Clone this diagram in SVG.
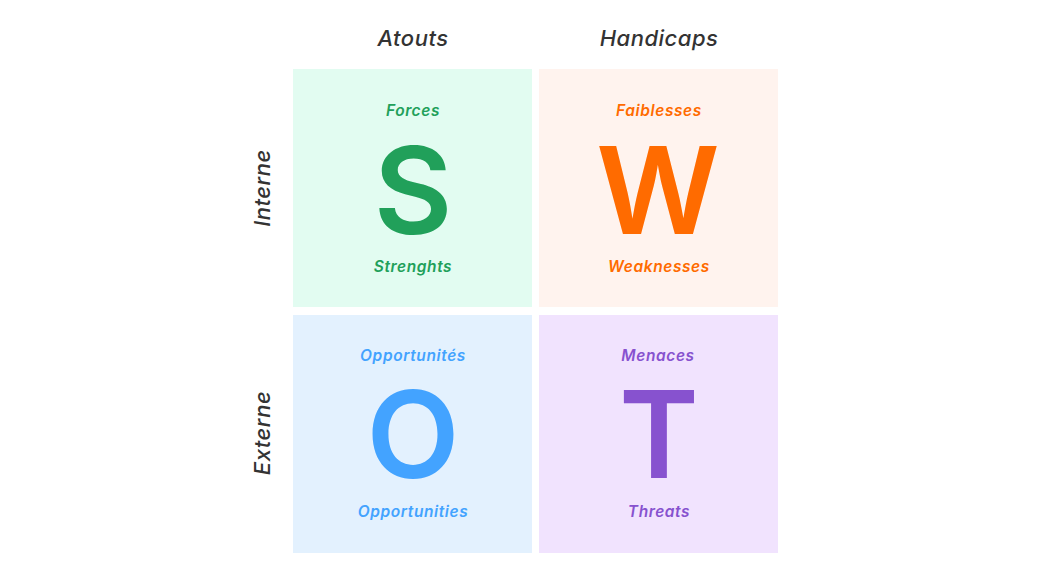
<svg xmlns="http://www.w3.org/2000/svg" width="1063" height="584" viewBox="0 0 1063 584">
<style>
.hdr{font-family:Inter,"Noto Sans",sans-serif;font-style:italic;font-weight:500;font-size:22px;letter-spacing:0.5px;fill:#333;text-anchor:middle}
.lbl{font-family:Inter,"Noto Sans",sans-serif;font-style:italic;font-weight:600;font-size:15.5px;letter-spacing:0.6px;text-anchor:middle}
.big{font-family:Inter,"Noto Sans",sans-serif;font-weight:600;font-size:121px;text-anchor:middle}
</style>
<rect width="1063" height="584" fill="#fff"/>
<g id="headers">
<text class="hdr" x="413" y="46">Atouts</text>
<text class="hdr" x="659" y="46">Handicaps</text>
<text class="hdr" transform="translate(270,188) rotate(-90)">Interne</text>
<text class="hdr" transform="translate(270,433) rotate(-90)">Externe</text>
</g>
<g id="S">
<rect x="293" y="69" width="239" height="238" fill="#e2fcf1"/>
<text class="lbl" x="413" y="116" fill="#21a05a">Forces</text>
<text class="big" x="413" y="234" fill="#21a05a">S</text>
<text class="lbl" x="413" y="272" fill="#21a05a">Strenghts</text>
</g>
<g id="W">
<rect x="539" y="69" width="239" height="238" fill="#fff3ee"/>
<text class="lbl" x="659" y="116" fill="#ff6b00">Faiblesses</text>
<text class="big" x="658" y="234" fill="#ff6b00">W</text>
<text class="lbl" x="659" y="272" fill="#ff6b00">Weaknesses</text>
</g>
<g id="O">
<rect x="293" y="315" width="239" height="238" fill="#e3f1fe"/>
<text class="lbl" x="413" y="361" fill="#43a3ff">Opportunités</text>
<text class="big" x="413" y="478" fill="#43a3ff">O</text>
<text class="lbl" x="413" y="517" fill="#43a3ff">Opportunities</text>
</g>
<g id="T">
<rect x="539" y="315" width="239" height="238" fill="#f1e3fe"/>
<text class="lbl" x="658" y="361" fill="#8752cf">Menaces</text>
<text class="big" x="659" y="478" fill="#8752cf">T</text>
<text class="lbl" x="659" y="517" fill="#8752cf">Threats</text>
</g>
<g id="connectors"/>
</svg>
